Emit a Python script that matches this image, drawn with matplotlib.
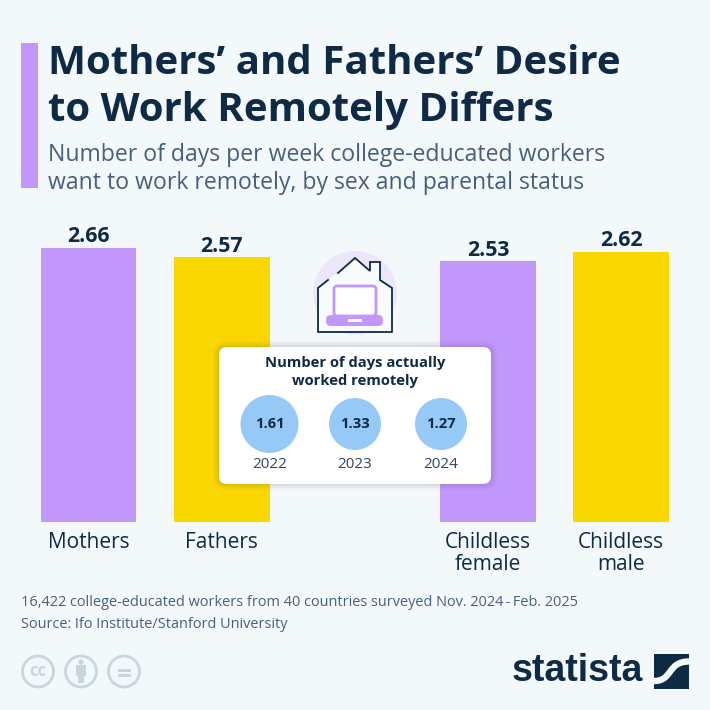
import matplotlib
matplotlib.use('Agg')
import matplotlib.pyplot as plt
from matplotlib.patches import Rectangle, FancyBboxPatch, Circle, Polygon, PathPatch
from matplotlib.path import Path

categories = ['Mothers', 'Fathers', 'Childless\nfemale', 'Childless\nmale']
positions = [0, 1, 3, 4]
desired_days = [2.66, 2.57, 2.53, 2.62]
years = ['2022', '2023', '2024']
actual_days = [1.61, 1.33, 1.27]

BG = '#f3f8fa'
NAVY = '#0f2a44'
SUB = '#46607c'
PURPLE = '#c197fb'
YELLOW = '#fbd700'
BLUE = '#97c9f7'
GREY = '#c8d6dd'

plt.rcParams['font.family'] = ['Open Sans', 'DejaVu Sans']

fig = plt.figure(figsize=(7.1, 7.1), dpi=100, facecolor=BG)

# bars
ax = fig.add_axes([0, (710 - 522) / 710, 1, 300 / 710])
ax.set_facecolor('none')
ax.bar(positions, desired_days, width=0.72, color=[PURPLE, YELLOW, PURPLE, YELLOW])
ax.set_xlim(-88.5 / 133.2, (710 - 88.5) / 133.2)
ax.set_ylim(0, 300 / 103)
ax.axis('off')
for p, v in zip(positions, desired_days):
    ax.annotate('%.2f' % v, (p, v), xytext=(0, 0.5), textcoords='offset points', ha='center',
                va='bottom', fontsize=15.3, fontweight='bold', color=NAVY)

# everything else in pixel coords
ov = fig.add_axes([0, 0, 1, 1])
ov.set_xlim(0, 710)
ov.set_ylim(710, 0)
ov.axis('off')
ov.patch.set_alpha(0)

ov.add_patch(Rectangle((21, 43), 17, 145, color=PURPLE, lw=0))
ov.text(48, 64, 'Mothers’ and Fathers’ Desire', fontsize=29, fontweight='bold', color=NAVY, va='center')
ov.text(48, 110, 'to Work Remotely Differs', fontsize=29, fontweight='bold', color=NAVY, va='center')
ov.text(48, 155, 'Number of days per week college-educated workers', fontsize=16.55, color=SUB, va='center')
ov.text(48, 183, 'want to work remotely, by sex and parental status', fontsize=16.55, color=SUB, va='center')

for p, c in zip(positions, categories):
    x = 88.5 + p * 133.2
    ov.text(x, 531.5, c, fontsize=15, color=NAVY, ha='center', va='top', linespacing=1.1)

# house icon
ov.add_patch(Circle((355, 293), 42, color='#ece6fa', lw=0))
ov.add_patch(Polygon([(318, 289), (355, 258), (370, 271), (370, 262), (380, 262), (380, 280), (392, 289),
                      (392, 332), (318, 332)], fc='#f8fbfc', ec='none', zorder=2))
ov.plot([338, 355, 370, 370, 380, 380, 392, 392, 318, 318, 328],
        [273, 258, 271, 262, 262, 280, 288, 332, 332, 288, 280], color=NAVY, lw=1.3, zorder=3, solid_joinstyle='miter')
ov.add_patch(FancyBboxPatch((334, 286), 42, 30, boxstyle='round,pad=0,rounding_size=3', fc='white', ec=PURPLE, lw=2, zorder=3))
ov.add_patch(FancyBboxPatch((326, 315), 57, 11, boxstyle='round,pad=0,rounding_size=5', fc=PURPLE, ec='none', zorder=4))
ov.add_patch(Rectangle((348, 319), 14, 2.5, color='white', lw=0, zorder=5))

# inset card
for grow, a in [(6, 0.03), (4, 0.04), (2, 0.06)]:
    ov.add_patch(FancyBboxPatch((219 - grow, 347 - grow), 272 + 2 * grow, 137 + 2 * grow,
                                boxstyle='round,pad=0,rounding_size=%d' % (8 + grow), fc=NAVY, alpha=a, ec='none', zorder=5))
ov.add_patch(FancyBboxPatch((219, 347), 272, 137, boxstyle='round,pad=0,rounding_size=8', fc='white', ec='none', zorder=6))
ov.text(355, 363.5, 'Number of days actually', fontsize=10.65, fontweight='bold', color=NAVY, ha='center', va='center', zorder=7)
ov.text(355, 381.5, 'worked remotely', fontsize=10.65, fontweight='bold', color=NAVY, ha='center', va='center', zorder=7)
circle_x = [269.5, 355, 441]
circle_r = [29, 26, 26]
for x, r, y_, v in zip(circle_x, circle_r, years, actual_days):
    ov.add_patch(Circle((x, 424), r, color=BLUE, lw=0, zorder=7))
    ov.text(x, 424.5, '%.2f' % v, fontsize=10.6, fontweight='bold', color=NAVY, ha='center', va='center', zorder=8)
    ov.text(x, 464, y_, fontsize=11, color='#2f4560', ha='center', va='center', zorder=8)

# footer
ov.text(21, 602.5, '16,422 college-educated workers from 40 countries surveyed Nov. 2024\u2009-\u2009Feb. 2025',
        fontsize=10.45, color=SUB, va='center')
ov.text(21, 624, 'Source: Ifo Institute/Stanford University', fontsize=10.45, color=SUB, va='center')

# cc icons
for x in [38, 81, 124]:
    ov.add_patch(Circle((x, 671.5), 15.5, fc='none', ec=GREY, lw=2))
ov.text(38, 670.5, 'cc', fontsize=12, fontweight='bold', color=GREY, ha='center', va='center')
ov.add_patch(Circle((81, 662), 2.6, color=GREY, lw=0))
ov.add_patch(Rectangle((76, 665), 10, 11, color=GREY, lw=0))
ov.add_patch(Rectangle((78, 676), 6, 6.5, color=GREY, lw=0))
ov.add_patch(Rectangle((118, 669), 12.5, 2.8, color=GREY, lw=0))
ov.add_patch(Rectangle((118, 674), 12.5, 2.8, color=GREY, lw=0))

# logo
ov.text(577.5, 671, 'statista', fontsize=27, fontweight='bold', family=['Liberation Sans', 'DejaVu Sans'],
        color=NAVY, ha='center', va='center')
square = Rectangle((654, 654), 35, 35, color=NAVY, lw=0)
ov.add_patch(square)
band = PathPatch(Path([(654, 681), (673, 681), (667, 661.5), (689, 661.5)],
                      [Path.MOVETO, Path.CURVE4, Path.CURVE4, Path.CURVE4]),
                 fc='none', ec=BG, lw=4.6, capstyle='butt')
ov.add_patch(band)
band.set_clip_path(square)

fig.savefig('out.png', dpi=100, facecolor=BG)
